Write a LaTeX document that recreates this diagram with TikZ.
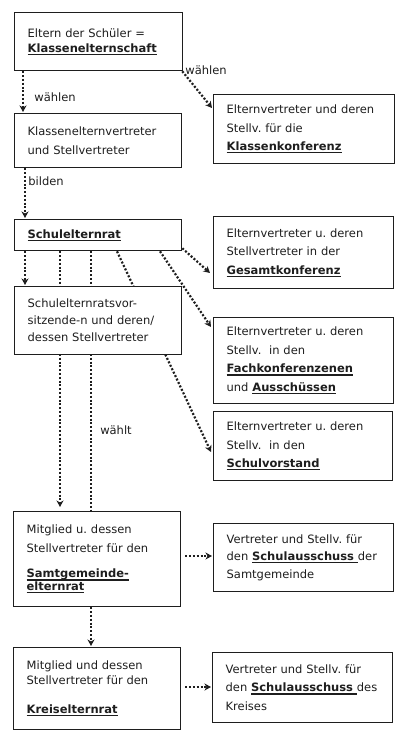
\documentclass[tikz,border=0pt]{standalone}
\usepackage{fontspec}
\setmainfont{DejaVu Sans}
\usetikzlibrary{arrows.meta,backgrounds}
\frenchspacing
\newcommand\bul[1]{\leavevmode\setbox0\hbox{\textbf{#1}}\rlap{\rule[-2.6pt]{\wd0}{1.1pt}}\box0}
\definecolor{ink}{HTML}{1E1E1E}
\tikzset{
  box/.style={draw=ink, line width=1.3pt, fill=white, text=ink, inner xsep=13pt, inner ysep=0pt,
    align=left, anchor=north west, font=\fontsize{11.5}{18.5}\selectfont\frenchspacing},
  dots/.style={draw=ink, line width=2.2pt, dash pattern=on 2pt off 1.8pt},
  arr/.style={dots, -{Stealth[length=6.5pt,width=7pt,inset=2pt]}},
  lbl/.style={text=ink, font=\fontsize{11.5}{14}\selectfont, inner sep=0pt}
}
\begin{document}
\begin{tikzpicture}[x=1pt,y=-1pt]
\useasboundingbox (0,0) rectangle (409,744);
\node[box, text width=142pt, minimum height=58pt] (b1) at (14,12) {Eltern der Schüler =\\[-3.5pt]\bul{Klassenelternschaft}};
\node[box, text width=141pt, minimum height=54pt] (b2) at (14,113) {Klassenelternvertreter\\und Stellvertreter};
\node[box, text width=155pt, minimum height=69pt] (b3) at (213,94) {Elternvertreter und deren\\Stellv. für die\\\bul{Klassenkonferenz}};
\node[box, text width=141pt, minimum height=31pt] (b4) at (14,219) {\bul{Schulelternrat}};
\node[box, text width=154pt, minimum height=72pt] (b5) at (213,216) {Elternvertreter u. deren\\Stellvertreter in der\\\bul{Gesamtkonferenz}};
\node[box, text width=141pt, minimum height=68pt] (b6) at (14,286) {Schulelternratsvor-\\[-1.5pt]sitzende-n und deren/\\[-1.5pt]dessen Stellvertreter};
\node[box, text width=154pt, minimum height=86pt] (b7) at (213,317) {Elternvertreter u. deren\\Stellv.\ \ in den\\\bul{Fachkonferenzenen}\\und \bul{Ausschüssen}};
\node[box, text width=153pt, minimum height=69pt] (b8) at (213,411) {Elternvertreter u. deren\\Stellv.\ \ in den\\\bul{Schulvorstand}};
\node[box, text width=141pt, minimum height=95pt] (b9) at (13,511) {Mitglied u. dessen\\Stellvertreter für den\\[7pt]\bul{Samtgemeinde-}\\[-6pt]\bul{elternrat}};
\node[box, text width=154pt, minimum height=68pt] (b10) at (213,523) {Vertreter und Stellv. für\\[-1pt]den \bul{Schulausschuss\ }der\\[-1pt]Samtgemeinde};
\node[box, text width=141pt, minimum height=82pt] (b11) at (13,647) {Mitglied und dessen\\[-4pt]Stellvertreter für den\\[11pt]\bul{Kreiselternrat}};
\node[box, text width=154pt, minimum height=70pt] (b12) at (212,652) {Vertreter und Stellv. für\\den \bul{Schulausschuss\ }des\\Kreises};

\node[lbl] (l1) at (55,97) {wählen};
\node[lbl] (l2) at (206,70) {wählen};
\node[lbl] (l3) at (46,181) {bilden};
\node[lbl] (l4) at (116,430) {wählt};

\begin{pgfonlayer}{background}
\draw[arr] ([xshift=9pt]b1.south west) -- ([xshift=9pt,yshift=1pt]b2.north west);
\draw[arr] ([xshift=-1pt]b1.south east) -- ([xshift=-1pt,yshift=-14pt]b3.north west);
\draw[arr] ([xshift=11pt]b2.south west) -- ([xshift=11pt,yshift=1pt]b4.north west);
\draw[arr] ([yshift=3pt]b4.south east) -- ([xshift=-3pt,yshift=-57pt]b5.north west);
\draw[arr] ([xshift=11pt]b4.south west) -- ([xshift=11pt,yshift=1pt]b6.north west);
\draw[arr] ([xshift=46pt]b4.south west) -- ([xshift=47pt,yshift=4pt]b9.north west);
\draw[dots] ([xshift=77pt]b4.south west) -- ([xshift=78pt]b9.north west);
\draw[arr] ([xshift=103pt]b4.south west) -- ([xshift=-2pt,yshift=-41pt]b8.north west);
\draw[arr] ([xshift=146pt]b4.south west) -- ([xshift=-2pt,yshift=-10pt]b7.north west);
\draw[arr, shorten <=4pt] ([yshift=-45pt]b9.north east) -- ([xshift=-1pt,yshift=-33pt]b10.north west);
\draw[arr] ([xshift=78pt]b9.south west) -- ([xshift=78pt,yshift=1pt]b11.north west);
\draw[arr, shorten <=4pt] ([yshift=-40pt]b11.north east) -- ([xshift=-1pt,yshift=-35pt]b12.north west);
\end{pgfonlayer}
\end{tikzpicture}
\end{document}
